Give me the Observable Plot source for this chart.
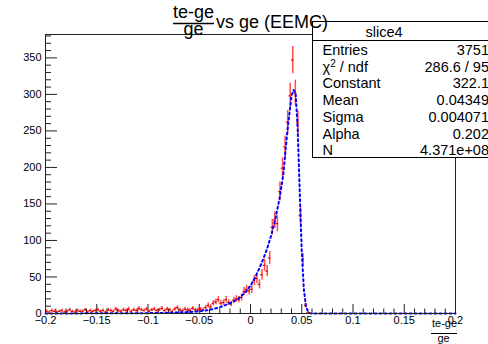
<!DOCTYPE html>
<html><head><meta charset="utf-8">
<script src="https://cdn.jsdelivr.net/npm/d3@7"></script>
<script src="https://cdn.jsdelivr.net/npm/@observablehq/plot@0.6"></script>
<style>
html,body{margin:0;padding:0;background:#fff;}
#chart{width:488px;height:344px;overflow:hidden;}
svg{display:block;}
</style></head><body><div id="chart"></div>
<script>
// ---- data ----
const histRange = [-0.2, 0.2];
const nBins = 160;
const counts = [
  3,2,4,3,2,3,4,2,3,5,3,2,4,3,3,5,2,4,3,4,
  5,3,4,2,5,4,3,6,4,3,5,4,6,3,5,4,7,5,4,6,
  3,5,6,4,5,7,4,6,5,3,6,8,5,4,6,
  5,4,7,5,5,6,5,8,11,9,14,16,19,14,15,19,15,13,18,20,19,22,30,33,31,
  33,45,48,40,53,66,58,76,118,128,123,167,199,228,262,298,347,302,261,134,74,11,1,
  0,0,0,0,0,0,0,0,0,0,0,0,0,0,0,0,0,0,0,0,
  0,0,0,0,0,0,0,0,0,0,0,0,0,0,0,0,0,0,0,0,
  0,0,0,0,0,0,0,0,0,0,0,0,0,0,0,0,0
];
const fitX = [-0.2,-0.15,-0.1,-0.08,-0.06,-0.05,-0.04,-0.03,-0.02,-0.016,-0.012,-0.008,-0.004,0,0.004,0.008,0.012,0.016,0.02,0.024,0.028,0.032,0.036,0.04,0.042,0.044,0.046,0.048,0.05,0.052,0.054,0.056,0.058,0.06,0.1,0.15,0.2];
const fitY = [0.1,0.2,0.5,1,2,3,5,8.5,14,17,20,25,31,38,48,60,73,88,106,128,155,190,250,298,306,302,254,168,86,34,11,3,0.5,0,0,0,0];
const xTicks = [-0.2,-0.15,-0.1,-0.05,0,0.05,0.1,0.15,0.2];
const xTickLabels = ["\u22120.2","\u22120.15","\u22120.1","\u22120.05","0","0.05","0.1","0.15","0.2"];
const yTicks = [0,50,100,150,200,250,300,350];
const yTickLabels = ["0","50","100","150","200","250","300","350"];
const titleNum = "te-ge", titleDen = "ge", titleRest = "vs ge (EEMC)";
const statsTitle = "slice4";
const statsNames = ["Entries","\u03c7|2| / ndf","Constant","Mean","Sigma","Alpha","N"];
const statsValues = ["3751","286.6 / 95","322.1","0.04349","0.004071","0.202","4.371e+08"];

// ---- layout ----
const W = 488, H = 344, mL = 45, mR = 33, mT = 34, mB = 31;
const fw = W - mL - mR, fh = H - mT - mB;
const font = "'Liberation Sans', Arial, Helvetica, sans-serif";

const bw = (histRange[1] - histRange[0]) / nBins;
const bins = counts.map((c, i) => ({x: histRange[0] + bw * (i + 0.5), c})).filter(d => d.c > 0);
const fit = fitX.map((x, i) => ({x, y: fitY[i]}));
const xMinor = d3.range(-20, 21).map(i => i / 100).filter(v => Math.abs(v * 20 - Math.round(v * 20)) > 1e-9);
const yMinor = d3.range(0, 381, 10).filter(v => v % 50 !== 0);

const plot = Plot.plot({
  width: W, height: H,
  marginLeft: mL, marginRight: mR, marginTop: mT, marginBottom: mB,
  x: {domain: histRange},
  y: {domain: [0, 382]},
  style: {fontFamily: font, fontSize: "11px", background: "white", color: "black"},
  marks: [
    Plot.ruleX(xMinor, {x: d => d, insetTop: fh - 4.5, stroke: "#222"}),
    Plot.ruleX(xTicks, {x: d => d, insetTop: fh - 9, stroke: "#222"}),
    Plot.ruleY(yMinor, {y: d => d, insetRight: fw - 6, stroke: "#222"}),
    Plot.ruleY(yTicks, {y: d => d, insetRight: fw - 12, stroke: "#222"}),
    Plot.axisX({ticks: xTicks, tickSize: 0, tickPadding: 3, label: null, fontSize: 11,
      tickFormat: d => xTickLabels[xTicks.indexOf(d)]}),
    Plot.axisY({ticks: yTicks, tickSize: 0, tickPadding: 4, label: null, fontSize: 11,
      tickFormat: d => yTickLabels[yTicks.indexOf(d)]}),
    Plot.ruleX(bins, {x: "x", y1: d => Math.max(0, d.c - Math.sqrt(d.c)), y2: d => d.c + Math.sqrt(d.c),
      stroke: "#ff0000", strokeOpacity: 0.7, strokeWidth: 1.5}),
    Plot.ruleY(bins, {y: "c", x1: d => d.x - bw / 2, x2: d => d.x + bw / 2, stroke: "#e00000", strokeWidth: 1.2}),
    Plot.line(fit, {x: "x", y: "y", stroke: "#0000ff", strokeWidth: 2, strokeDasharray: "2,3"}),
    Plot.frame({stroke: "#222"})
  ]
});
document.getElementById("chart").appendChild(plot);

const svg = d3.select(plot);
// stats box
const sb = svg.append("g").attr("font-family", font).attr("fill", "black").attr("text-anchor", "start");
sb.append("rect").attr("x", 312.5).attr("y", 21.5).attr("width", 200).attr("height", 136)
  .attr("fill", "white").attr("stroke", "black");
sb.append("line").attr("x1", 312.5).attr("x2", 500).attr("y1", 40.5).attr("y2", 40.5).attr("stroke", "black");
sb.append("text").attr("x", 384).attr("y", 37).attr("text-anchor", "middle").attr("font-size", 14.5).text(statsTitle);
statsNames.forEach((n, i) => {
  const y = 55 + i * 16.7;
  const t = sb.append("text").attr("x", 322.5).attr("y", y).attr("text-anchor", "start").attr("font-size", 14.5);
  const parts = n.split("|");
  if (parts.length === 3) {
    t.append("tspan").text(parts[0]);
    t.append("tspan").attr("dy", -5).attr("font-size", 10).text(parts[1]);
    t.append("tspan").attr("dy", 5).text(parts[2]);
  } else t.text(n);
  sb.append("text").attr("x", 489).attr("y", y).attr("text-anchor", "end").attr("font-size", 14.5).text(statsValues[i]);
});

// title
const tg = svg.append("g").attr("font-family", font).attr("fill", "black");
tg.append("text").attr("x", 193.5).attr("y", 18).attr("text-anchor", "middle").attr("font-size", 18).text(titleNum);
tg.append("line").attr("x1", 173).attr("x2", 214).attr("y1", 23.5).attr("y2", 23.5).attr("stroke", "black").attr("stroke-width", 1.5);
tg.append("text").attr("x", 193.5).attr("y", 35).attr("text-anchor", "middle").attr("font-size", 18).text(titleDen);
tg.append("text").attr("x", 216).attr("y", 28).attr("text-anchor", "start").attr("font-size", 18).text(titleRest);

// x-axis title
const xg = svg.append("g").attr("font-family", font).attr("fill", "black");
xg.append("text").attr("x", 444.5).attr("y", 327).attr("text-anchor", "middle").attr("font-size", 11).text(titleNum);
xg.append("line").attr("x1", 431).attr("x2", 457).attr("y1", 333.5).attr("y2", 333.5).attr("stroke", "black");
xg.append("text").attr("x", 443.5).attr("y", 342).attr("text-anchor", "middle").attr("font-size", 11).text(titleDen);
</script></body></html>
